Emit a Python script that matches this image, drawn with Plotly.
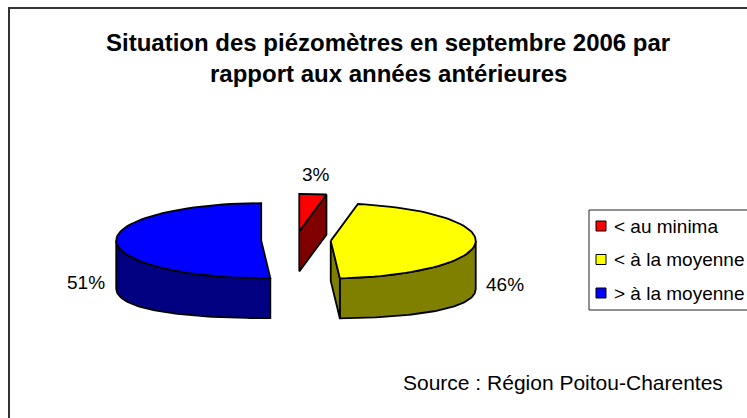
import math
import plotly.graph_objects as go

# ---- data ----
categories = ["< au minima", "< à la moyenne", "> à la moyenne"]
values = [3, 46, 51]
top_colors = ["#FF0000", "#FFFF00", "#0000FF"]
side_colors = ["#800000", "#808000", "#000080"]
title_lines = ["Situation des piézomètres en septembre 2006 par",
               "rapport aux années antérieures"]
source_text = "Source : Région Poitou-Charentes"

# ---- 3D pie projection parameters (pixel space) ----
W, H = 747, 418
PX, PY = 296.0, 240.3      # centre of top face
A, B = 145.0, 37.5         # ellipse semi-axes of top face
H0, HK = 40.0, 8.0         # side height (front/back) and extra at the sides
EXPLODE = 0.24
FONT = "Liberation Sans, Arial, sans-serif"

def rim(cx, cy, th, bottom=False):
    r = math.radians(th)
    x = cx + A * math.sin(r)
    y = cy - B * math.cos(r)
    if bottom:
        y += H0 + HK * math.sin(r) ** 2
    return x, y

def arc(cx, cy, t0, t1, bottom=False, n=60):
    pts = []
    for i in range(n + 1):
        t = t0 + (t1 - t0) * i / n
        pts.append(rim(cx, cy, t, bottom))
    return pts

total = sum(values)
slices = []
start = 0.0
for i, v in enumerate(values):
    span = v / total * 360.0
    t1, t2 = start, start + span
    mid = (t1 + t2) / 2
    m = math.radians(mid)
    cx = PX + A * EXPLODE * math.sin(m)
    cy = PY - B * EXPLODE * math.cos(m)
    slices.append(dict(i=i, t1=t1, t2=t2, mid=mid, cx=cx, cy=cy))
    start = t2

fig = go.Figure()

def add_poly(pts, color):
    xs = [p[0] for p in pts] + [pts[0][0]]
    ys = [p[1] for p in pts] + [pts[0][1]]
    fig.add_trace(go.Scatter(x=xs, y=ys, mode="lines", fill="toself",
                             fillcolor=color,
                             line=dict(color="black", width=1.8),
                             hoverinfo="skip", showlegend=False))

for s in sorted(slices, key=lambda d: d["cy"]):
    i, t1, t2, cx, cy = s["i"], s["t1"], s["t2"], s["cx"], s["cy"]
    ctop = (cx, cy)
    cbot = (cx, cy + H0)
    # outer curved side (front half 90..270)
    lo, hi = max(t1, 90.0), min(t2, 270.0)
    if hi > lo:
        pts = arc(cx, cy, lo, hi) + arc(cx, cy, hi, lo, bottom=True)
        add_poly(pts, side_colors[i])
    # radial faces
    if math.sin(math.radians(t2)) > 1e-6:
        add_poly([ctop, rim(cx, cy, t2), rim(cx, cy, t2, True), cbot], side_colors[i])
    if math.sin(math.radians(t1)) < -1e-6:
        add_poly([ctop, rim(cx, cy, t1), rim(cx, cy, t1, True), cbot], side_colors[i])
    # top face
    add_poly([ctop] + arc(cx, cy, t1, t2), top_colors[i])

annotations = []
# percentage labels
for s in slices:
    m = math.radians(s["mid"])
    lx = s["cx"] + (A + 30) * math.sin(m)
    ly = s["cy"] - (B + 20) * math.cos(m) + H0 * math.sin(m) ** 2
    annotations.append(dict(x=lx, y=ly, text=f"{round(values[s['i']] / total * 100)}%",
                            showarrow=False, xanchor="center", yanchor="middle",
                            font=dict(family=FONT, size=19, color="black")))

# title
for k, line in enumerate(title_lines):
    annotations.append(dict(x=388, y=42 + 31 * k, text=f"<b>{line}</b>", showarrow=False,
                            xanchor="center", yanchor="middle",
                            font=dict(family=FONT, size=24, color="black")))

# source
annotations.append(dict(x=563, y=382, text=source_text, showarrow=False,
                        xanchor="center", yanchor="middle",
                        font=dict(family=FONT, size=21, color="black")))

# legend (manual)
LEG_Y0, LEG_DY = 226, 33.5
fig.add_trace(go.Scatter(
    x=[601] * len(categories),
    y=[LEG_Y0 + LEG_DY * k for k in range(len(categories))],
    mode="markers",
    marker=dict(symbol="square", size=10, color=top_colors,
                line=dict(color="black", width=1)),
    hoverinfo="skip", showlegend=False))
for k, c in enumerate(categories):
    annotations.append(dict(x=612, y=LEG_Y0 + LEG_DY * k, text=c, showarrow=False,
                            xanchor="left", yanchor="middle",
                            font=dict(family=FONT, size=19, color="black")))

shapes = [
    dict(type="rect", xref="x", yref="y", x0=9, y0=8, x1=W + 20, y1=H + 20,
         line=dict(color="#333333", width=2), fillcolor="rgba(0,0,0,0)", layer="below"),
    dict(type="rect", xref="x", yref="y", x0=589, y0=210, x1=W + 20, y1=310,
         line=dict(color="#222222", width=1), fillcolor="rgba(0,0,0,0)", layer="below"),
]

fig.update_layout(
    width=W, height=H, autosize=False,
    margin=dict(l=0, r=0, t=0, b=0, pad=0),
    paper_bgcolor="white", plot_bgcolor="white",
    xaxis=dict(range=[0, W], visible=False, fixedrange=True),
    yaxis=dict(range=[H, 0], visible=False, fixedrange=True),
    showlegend=False,
    annotations=annotations,
    shapes=shapes,
)

fig.write_html("out.html")
